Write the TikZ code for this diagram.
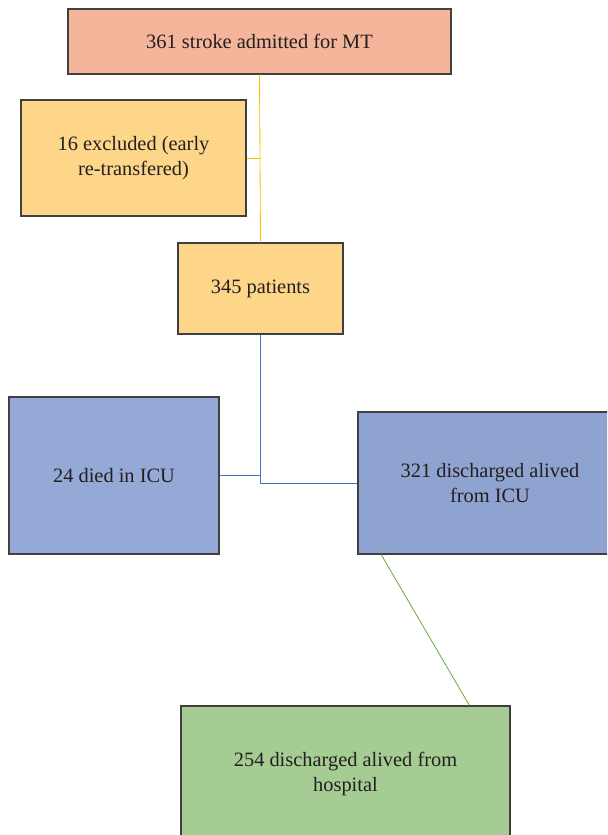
\documentclass[tikz,border=0pt]{standalone}
\usepackage{fontspec}
\setmainfont{Liberation Serif}
\usepackage{tikz}
\usetikzlibrary{calc}
\definecolor{salmon}{HTML}{F4B59B}
\definecolor{sand}{HTML}{FED68A}
\definecolor{lav}{HTML}{94A9D6}
\definecolor{lavdark}{HTML}{8FA3D1}
\definecolor{sage}{HTML}{A5CD93}
\definecolor{txt}{HTML}{231F20}
\tikzstyle{box} = [draw=black!75, line width=0.9pt, rectangle, inner sep=0pt, align=center, text=txt, font={\rmfamily\fontsize{14.5}{17.7}\selectfont}]
\tikzstyle{yline} = [draw={rgb,255:red,255;green,192;blue,0}, line width=0.6pt]
\tikzstyle{bline} = [draw={rgb,255:red,68;green,114;blue,196}, line width=0.6pt]
\tikzstyle{gline} = [draw={rgb,255:red,112;green,173;blue,71}, line width=0.6pt]

\begin{document}
\begin{tikzpicture}[x=0.025cm,y=-0.025cm]
    \useasboundingbox (0,0) rectangle (607,835);
    \clip (0,0) rectangle (607,835);
    \node[box,fill=salmon,minimum width=9.575cm,minimum height=1.625cm](top) at (259.5,41.5){361 stroke admitted for MT};
    \node[box,fill=sand,minimum width=5.625cm,minimum height=2.9cm](excl) at (133.5,158){16 excluded (early\\re-transfered)};
    \node[box,fill=sand,minimum width=4.125cm,minimum height=2.275cm](pat) at (260.5,288.5){345 patients};
    \node[box,fill=lav,minimum width=5.25cm,minimum height=3.925cm](died) at (114,475.5){24 died in ICU};
    \node[box,fill=lavdark,minimum width=6.6cm,minimum height=3.55cm](icu) at (490,483){321 discharged alived\\from ICU};
    \node[box,fill=sage,minimum width=8.225cm,minimum height=3.4cm](hosp) at (345.5,774){254 discharged alived from\\hospital};
    \draw[yline](top.south)--(pat.north);
    \draw[yline](excl.east)--(excl.east -| top.south);
    \draw[bline](pat.south)|-(icu.west);
    \draw[bline](died.east)--(died.east -| pat.south);
    \draw[gline]($(icu.south west)!0.09!(icu.south east)$)--($(hosp.north west)!0.875!(hosp.north east)$);
  \end{tikzpicture}
\end{document}
